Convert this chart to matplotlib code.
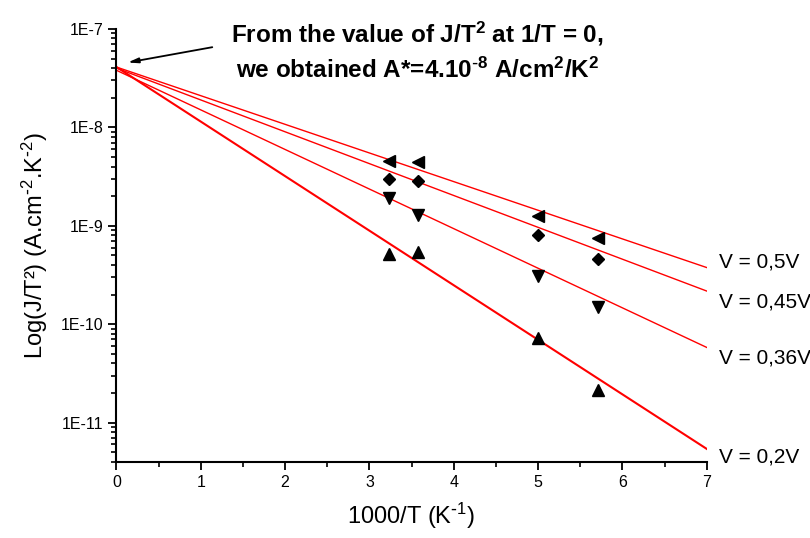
import matplotlib.pyplot as plt
from matplotlib.ticker import FixedLocator, NullFormatter
import numpy as np

plt.rcParams['font.family'] = ['Liberation Sans', 'DejaVu Sans']
plt.rcParams['mathtext.default'] = 'regular'

# 1000/T values of the measurements
inv_T = [3.23, 3.57, 5.0, 5.71]

# J/T^2 data per bias voltage
j_05 = [4.5e-9, 4.45e-9, 1.25e-9, 7.5e-10]
j_045 = [3.0e-9, 2.85e-9, 8.1e-10, 4.6e-10]
j_036 = [1.9e-9, 1.3e-9, 3.1e-10, 1.5e-10]
j_02 = [5.2e-10, 5.4e-10, 7.3e-11, 2.15e-11]

# fitted lines: value at 1000/T = 0 and at 1000/T = 7
fit_start = [4.1e-8, 4.0e-8, 3.8e-8, 4.1e-8]
fit_end = [3.76e-10, 2.17e-10, 5.8e-11, 5.4e-12]

labels = ['V = 0,5V', 'V = 0,45V', 'V = 0,36V', 'V = 0,2V']
label_y = [3.8e-10, 1.49e-10, 3.98e-11, 3.94e-12]

fig = plt.figure(figsize=(8.1, 5.38), dpi=100)
ax = fig.add_axes([0.1438, 0.1418, 0.7287, 0.8044])

xs = np.array([0, 7])
widths = [1, 1, 1, 1.5]
for y0, y7, lw in zip(fit_start, fit_end, widths):
    ax.plot(xs, [y0, y7], color='red', lw=lw)

ax.plot(inv_T, j_05, ls='none', marker='<', ms=8, color='black')
ax.plot(inv_T, j_045, ls='none', marker='D', ms=6.5, color='black')
ax.plot(inv_T, j_036, ls='none', marker='v', ms=8, color='black')
ax.plot(inv_T, j_02, ls='none', marker='^', ms=8, color='black')

for lab, ly in zip(labels, label_y):
    ax.text(7.15, ly, lab, fontsize=15, va='baseline', ha='left')

ax.set_yscale('log')
ax.set_xlim(0, 7)
ax.set_ylim(4e-12, 1e-7)
ax.set_xticks(range(8))
ax.set_xticks(np.arange(0.5, 7, 1), minor=True)
ax.set_yticks([1e-11, 1e-10, 1e-9, 1e-8, 1e-7])
ax.set_yticklabels(['1E-11', '1E-10', '1E-9', '1E-8', '1E-7'])
minor_y = [m * 10.0 ** e for e in range(-12, -7) for m in range(2, 10)]
ax.yaxis.set_minor_locator(FixedLocator(minor_y))
ax.yaxis.set_minor_formatter(NullFormatter())

ax.spines['top'].set_visible(False)
ax.spines['right'].set_visible(False)
ax.spines['left'].set_linewidth(1.5)
ax.spines['bottom'].set_linewidth(1.5)
ax.tick_params(which='major', direction='out', length=6, width=1.3,
               labelsize=11.5, color='black')
ax.tick_params(which='minor', direction='out', length=3.5, width=1.2,
               color='black')

ax.set_xlabel(r'1000/T (K$^{\text{-}1}$)', fontsize=17, labelpad=8)
ax.set_ylabel(r'Log(J/T²) (A.cm$^{\text{-}2}$.K$^{\text{-}2}$)', fontsize=17, labelpad=8)

fig.text(0.515, 1 - 42 / 538, 'From the value of J/T$^2$ at 1/T = 0,',
         fontsize=17.5, fontweight='bold', ha='center', va='baseline')
fig.text(0.515, 1 - 78 / 538, r'we obtained A*=4.10$^{\text{-}8}$ A/cm$^2$/K$^2$',
         fontsize=17.5, fontweight='bold', ha='center', va='baseline')
ax.annotate('', xy=(125 / 810, 1 - 63 / 538), xytext=(215 / 810, 1 - 46.7 / 538),
            xycoords='figure fraction', textcoords='figure fraction',
            arrowprops=dict(arrowstyle='-|>,head_length=0.6,head_width=0.15',
                            color='black', lw=1.3))

fig.savefig('out.png', dpi=100)
